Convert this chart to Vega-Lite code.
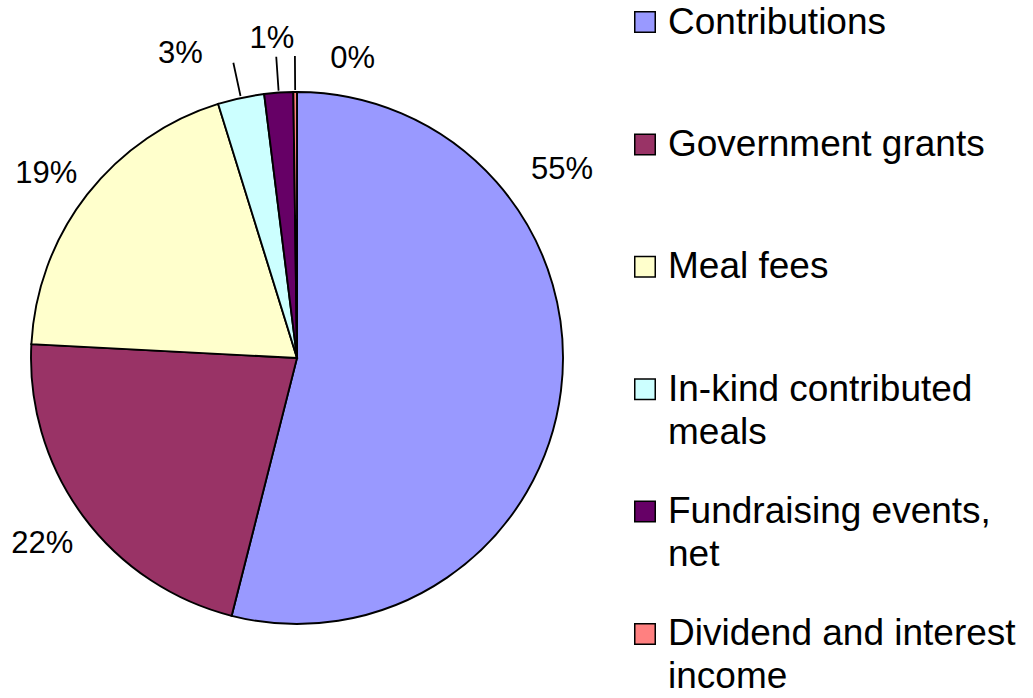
{
  "$schema": "https://vega.github.io/schema/vega-lite/v6.json",
  "padding": 0,
  "spacing": 51,
  "bounds": "flush",
  "config": {"view": {"stroke": null}},
  "data": {"values": [
    {"category": "Contributions", "value": 53.95, "label": "55%", "legendLabel": "Contributions", "order": 1},
    {"category": "Government grants", "value": 21.88, "label": "22%", "legendLabel": "Government grants", "order": 2},
    {"category": "Meal fees", "value": 19.38, "label": "19%", "legendLabel": "Meal fees", "order": 3},
    {"category": "In-kind contributed meals", "value": 2.82, "label": "3%", "legendLabel": "In-kind contributed\nmeals", "order": 4},
    {"category": "Fundraising events, net", "value": 1.75, "label": "1%", "legendLabel": "Fundraising events,\nnet", "order": 5},
    {"category": "Dividend and interest income", "value": 0.22, "label": "0%", "legendLabel": "Dividend and interest\nincome", "order": 6}
  ]},
  "hconcat": [
    {
      "width": 594,
      "height": 698,
      "encoding": {
        "theta": {"field": "value", "type": "quantitative", "stack": true},
        "order": {"field": "order", "type": "quantitative"},
        "detail": {"field": "category", "type": "nominal"}
      },
      "layer": [
        {
          "mark": {"type": "arc", "outerRadius": 266, "stroke": "black", "strokeWidth": 1.9, "yOffset": 9},
          "encoding": {
            "color": {
              "field": "category", "type": "nominal", "legend": null,
              "scale": {
                "domain": ["Contributions", "Government grants", "Meal fees", "In-kind contributed meals", "Fundraising events, net", "Dividend and interest income"],
                "range": ["#9999FF", "#993366", "#FFFFCC", "#CCFFFF", "#660066", "#FF8080"]
              }
            }
          }
        },
        {
          "mark": {"type": "arc", "outerRadius": 302, "innerRadius": 268, "padAngle": 3.1416, "fillOpacity": 0, "fill": "white", "stroke": "black", "strokeWidth": 1.8, "yOffset": 9, "clip": true},
          "encoding": {
            "strokeOpacity": {"condition": {"test": "datum.value < 5", "value": 1}, "value": 0}
          }
        },
        {
          "mark": {"type": "text", "radius": 326, "thetaOffset": -0.746, "fontSize": 31, "font": "Liberation Sans", "color": "black", "baseline": "middle", "dy": 2, "yOffset": 9, "clip": true},
          "encoding": {"text": {"condition": {"test": "datum.order == 1", "field": "label"}, "value": ""}}
        },
        {
          "mark": {"type": "text", "radius": 314, "thetaOffset": 0.0105, "fontSize": 31, "font": "Liberation Sans", "color": "black", "baseline": "middle", "dy": 2, "yOffset": 9, "clip": true},
          "encoding": {"text": {"condition": {"test": "datum.order == 2", "field": "label"}, "value": ""}}
        },
        {
          "mark": {"type": "text", "radius": 312, "thetaOffset": -0.024, "fontSize": 31, "font": "Liberation Sans", "color": "black", "baseline": "middle", "dy": 2, "yOffset": 9, "clip": true},
          "encoding": {"text": {"condition": {"test": "datum.order == 3", "field": "label"}, "value": ""}}
        },
        {
          "mark": {"type": "text", "radius": 327, "thetaOffset": -0.152, "fontSize": 31, "font": "Liberation Sans", "color": "black", "baseline": "middle", "dy": 2, "yOffset": 9, "clip": true},
          "encoding": {"text": {"condition": {"test": "datum.order == 4", "field": "label"}, "value": ""}}
        },
        {
          "mark": {"type": "text", "radius": 322, "thetaOffset": -0.009, "fontSize": 31, "font": "Liberation Sans", "color": "black", "baseline": "middle", "dy": 2, "yOffset": 9, "clip": true},
          "encoding": {"text": {"condition": {"test": "datum.order == 5", "field": "label"}, "value": ""}}
        },
        {
          "mark": {"type": "text", "radius": 306, "thetaOffset": 0.19, "fontSize": 31, "font": "Liberation Sans", "color": "black", "baseline": "middle", "dy": 2, "yOffset": 9, "clip": true},
          "encoding": {"text": {"condition": {"test": "datum.order == 6", "field": "label"}, "value": ""}}
        }
      ]
    },
    {
      "width": 20,
      "height": 656,
      "encoding": {
        "x": {"datum": 0, "type": "quantitative", "scale": {"domain": [0, 1]}, "axis": null},
        "y": {"field": "category", "type": "nominal", "sort": {"field": "order"}, "scale": {"type": "point", "padding": 0.18}, "axis": null}
      },
      "layer": [
        {
          "mark": {"type": "point", "shape": "square", "size": 420, "filled": true, "opacity": 1, "stroke": "black", "strokeWidth": 1.5},
          "encoding": {
            "fill": {
              "field": "category", "type": "nominal", "legend": null,
              "scale": {
                "domain": ["Contributions", "Government grants", "Meal fees", "In-kind contributed meals", "Fundraising events, net", "Dividend and interest income"],
                "range": ["#9999FF", "#993366", "#FFFFCC", "#CCFFFF", "#660066", "#FF8080"]
              }
            }
          }
        },
        {
          "mark": {"type": "text", "align": "left", "baseline": "alphabetic", "dx": 23, "dy": 11.5, "fontSize": 37, "font": "Liberation Sans", "color": "black", "lineBreak": "\n", "lineHeight": 43},
          "encoding": {"text": {"field": "legendLabel"}}
        }
      ]
    }
  ]
}
